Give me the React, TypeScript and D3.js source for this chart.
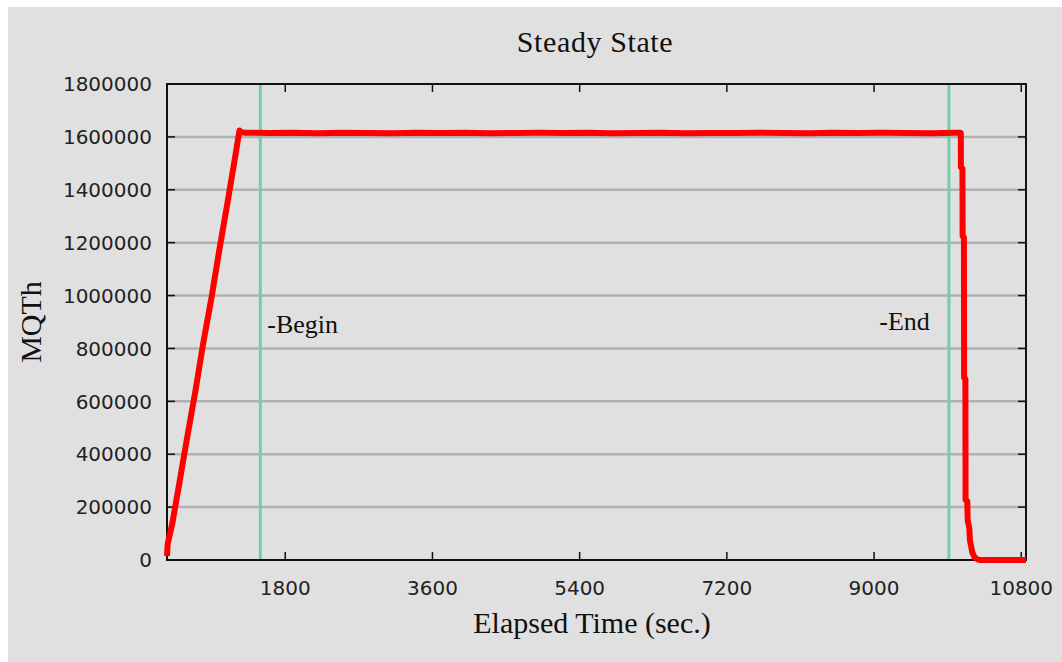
import React, { useRef, useEffect } from 'react';
import * as d3 from 'd3';

// ramp-up (seconds, MQTh)
const rampTimes = [354, 362, 420, 500, 600, 700, 800, 900, 1000, 1100, 1200, 1240, 1262];
const rampValues = [15000, 60000, 140000, 282000, 462000, 636000, 825000, 995000, 1184000, 1362000, 1548000, 1624000, 1618000];

// steady plateau
const plateauTimes = [1300, 1600, 1900, 2200, 2500, 2800, 3100, 3400, 3700, 4000, 4300, 4600, 4900, 5200, 5500,
  5800, 6100, 6400, 6700, 7000, 7300, 7600, 7900, 8200, 8500, 8800, 9100, 9400, 9700, 10000, 10040];
const plateauValues = [1616000, 1615000, 1616000, 1614000, 1616000, 1615000, 1614000, 1616000, 1615000, 1616000,
  1614000, 1615000, 1616000, 1615000, 1616000, 1614000, 1615000, 1616000, 1614000, 1615000, 1615000, 1616000,
  1615000, 1614000, 1616000, 1615000, 1616000, 1615000, 1614000, 1616000, 1616000];

// drain at the end
const drainTimes = [10061, 10062, 10081, 10083, 10099, 10101, 10117, 10119, 10140, 10145, 10165, 10172, 10185, 10200, 10225, 10260, 10290, 10858];
const drainValues = [1615000, 1485000, 1480000, 1225000, 1220000, 690000, 685000, 228000, 222000, 150000, 120000, 75000, 55000, 30000, 12000, 3000, 0, 0];

const xTicks = [1800, 3600, 5400, 7200, 9000, 10800];
const yTicks = [0, 200000, 400000, 600000, 800000, 1000000, 1200000, 1400000, 1600000, 1800000];

const markers = [
  { t: 1495, label: '-Begin', side: 'right' },
  { t: 9915, label: '-End', side: 'left' },
];

const W = 1062;
const H = 662;
const plot = { left: 167, right: 1026, top: 84, bottom: 560 };
const serif = '"Liberation Serif", "DejaVu Serif", serif';
const sans = '"DejaVu Sans", sans-serif';

const App = () => {
  const svgRef = useRef(null);

  useEffect(() => {
    const svg = d3.select(svgRef.current);
    svg.selectAll('*').remove();

    const data = [
      ...rampTimes.map((t, i) => ({ t, v: rampValues[i] })),
      ...plateauTimes.map((t, i) => ({ t, v: plateauValues[i] })),
      ...drainTimes.map((t, i) => ({ t, v: drainValues[i] })),
    ];

    const x = d3.scaleLinear().domain([354, 10858]).range([plot.left, plot.right]);
    const y = d3.scaleLinear().domain([0, 1800000]).range([plot.bottom, plot.top]);

    // background
    svg.append('rect')
      .attr('x', 8).attr('y', 7)
      .attr('width', W - 8).attr('height', H - 7)
      .attr('fill', '#e0e0e0');

    // grid lines
    svg.append('g')
      .selectAll('line')
      .data(yTicks.filter(d => d > 0 && d < 1800000))
      .join('line')
      .attr('x1', plot.left).attr('x2', plot.right)
      .attr('y1', d => y(d)).attr('y2', d => y(d))
      .attr('stroke', '#b2b2b2')
      .attr('stroke-width', 2.5);

    // ticks (inward, all four sides)
    const tickLen = 8;
    const ticks = svg.append('g').attr('stroke', '#111').attr('stroke-width', 1.5);
    yTicks.forEach(d => {
      ticks.append('line').attr('x1', plot.left).attr('x2', plot.left + tickLen).attr('y1', y(d)).attr('y2', y(d));
      ticks.append('line').attr('x1', plot.right).attr('x2', plot.right - tickLen).attr('y1', y(d)).attr('y2', y(d));
    });
    xTicks.forEach(d => {
      ticks.append('line').attr('x1', x(d)).attr('x2', x(d)).attr('y1', plot.bottom).attr('y2', plot.bottom - tickLen);
      ticks.append('line').attr('x1', x(d)).attr('x2', x(d)).attr('y1', plot.top).attr('y2', plot.top + tickLen);
    });

    // marker lines
    svg.append('g')
      .selectAll('line')
      .data(markers)
      .join('line')
      .attr('x1', d => x(d.t)).attr('x2', d => x(d.t))
      .attr('y1', plot.top).attr('y2', plot.bottom)
      .attr('stroke', '#6ed0a6')
      .attr('stroke-width', 3);

    // frame
    svg.append('rect')
      .attr('x', plot.left).attr('y', plot.top)
      .attr('width', plot.right - plot.left).attr('height', plot.bottom - plot.top)
      .attr('fill', 'none')
      .attr('stroke', '#111')
      .attr('stroke-width', 2);

    // series
    const line = d3.line()
      .x(d => x(d.t))
      .y(d => y(d.v));
    svg.append('path')
      .datum(data)
      .attr('fill', 'none')
      .attr('stroke', '#ff0000')
      .attr('stroke-width', 6)
      .attr('stroke-linejoin', 'round')
      .attr('d', line);

    // marker labels
    svg.append('g')
      .selectAll('text')
      .data(markers)
      .join('text')
      .attr('x', d => d.side === 'right' ? x(d.t) + 7 : x(d.t) - 19)
      .attr('y', d => y(900000) + (d.side === 'right' ? 11 : 8))
      .attr('text-anchor', d => d.side === 'right' ? 'start' : 'end')
      .style('font-family', serif)
      .style('font-size', '26px')
      .attr('fill', '#111')
      .text(d => d.label);

    // tick labels
    svg.append('g')
      .selectAll('text')
      .data(yTicks)
      .join('text')
      .attr('x', plot.left - 15)
      .attr('y', d => y(d))
      .attr('dy', '0.36em')
      .attr('text-anchor', 'end')
      .style('font-family', sans)
      .style('font-size', '20px')
      .attr('fill', '#222')
      .text(d => d);

    svg.append('g')
      .selectAll('text')
      .data(xTicks)
      .join('text')
      .attr('x', d => x(d))
      .attr('y', 595)
      .attr('text-anchor', 'middle')
      .style('font-family', sans)
      .style('font-size', '20px')
      .attr('fill', '#222')
      .text(d => d);

    // titles
    svg.append('text')
      .attr('x', 595).attr('y', 52)
      .attr('text-anchor', 'middle')
      .style('font-family', serif)
      .style('font-size', '30px')
      .style('letter-spacing', '0.6px')
      .attr('fill', '#111')
      .text('Steady State');

    svg.append('text')
      .attr('x', 592).attr('y', 633)
      .attr('text-anchor', 'middle')
      .style('font-family', serif)
      .style('font-size', '30px')
      .attr('fill', '#111')
      .text('Elapsed Time (sec.)');

    svg.append('text')
      .attr('transform', `translate(41,${(plot.top + plot.bottom) / 2}) rotate(-90)`)
      .attr('text-anchor', 'middle')
      .style('font-family', serif)
      .style('font-size', '30px')
      .attr('fill', '#111')
      .text('MQTh');
  }, []);

  return (
    <div style={{ position: 'absolute', left: 0, top: 0, width: W, height: H, background: '#fff' }}>
      <svg ref={svgRef} width={W} height={H} style={{ display: 'block' }}></svg>
    </div>
  );
};

export default App;
